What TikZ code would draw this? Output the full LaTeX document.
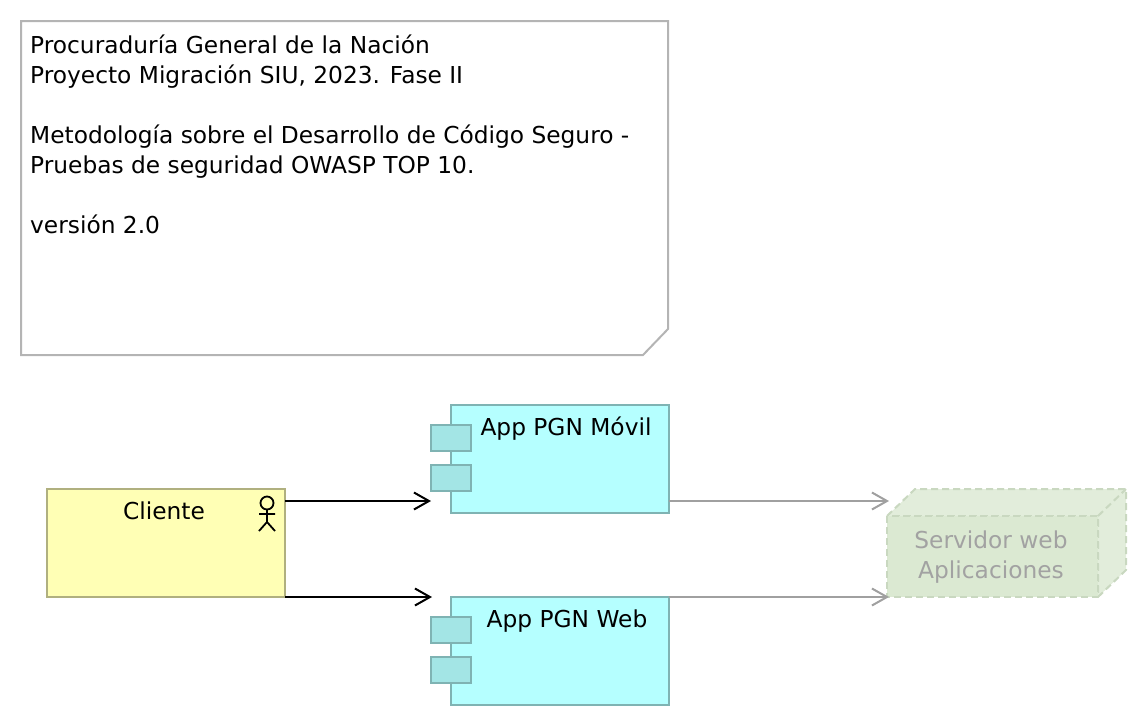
\documentclass[tikz,border=0pt]{standalone}
\usepackage{fontspec}
\setmainfont{DejaVu Sans}
\usetikzlibrary{arrows.meta}
\definecolor{notegray}{HTML}{B4B4B4}
\definecolor{appfill}{HTML}{B5FFFF}
\definecolor{appline}{HTML}{7FB3B3}
\definecolor{tabfill}{HTML}{A3E5E5}
\definecolor{clientfill}{HTML}{FFFFB5}
\definecolor{clientline}{HTML}{B0B07F}
\definecolor{frontfill}{HTML}{DBE9D2}
\definecolor{sidefill}{HTML}{E2EDDB}
\definecolor{serverline}{HTML}{C9D8C0}
\definecolor{servertext}{HTML}{A2A2A2}
\definecolor{flowgray}{HTML}{A0A0A0}
\tikzset{
	label font/.style = {font=\fontsize{23.3}{30}\selectfont},
	element/.style = {draw, line width=2pt, inner sep=0pt, outer sep=0pt, anchor=north west},
	app/.style = {element, fill=appfill, draw=appline, minimum width=218pt, minimum height=108pt},
	apptab/.style = {element, fill=tabfill, draw=appline, minimum width=40pt, minimum height=26pt},
	client/.style = {element, fill=clientfill, draw=clientline, minimum width=238pt, minimum height=108pt},
	flow/.style = {-{Straight Barb[length=15pt,width=17pt]}, line width=2pt},
	serverflow/.style = {flow, draw=flowgray},
	face/.style = {draw=serverline, line width=2pt, dash pattern=on 7pt off 4pt, line join=round}
}
\begin{document}
\begin{tikzpicture}[x=1pt, y=-1pt]
	\useasboundingbox (0, 0) rectangle (1146, 726);
	% note
	\draw[notegray, line width=2pt, fill=white] (21, 21) -- (668, 21) -- (668, 329) -- (643, 355) -- (21, 355) -- cycle;
	\node[label font, anchor=north west, align=left, inner sep=0pt] (notetext) at (30, 35) {Procuraduría General de la Nación\\Proyecto Migración SIU, 2023. Fase II\\ \\Metodología sobre el Desarrollo de Código Seguro -\\Pruebas de seguridad OWASP TOP 10.\\ \\versión 2.0};
	% client
	\node[client] (cliente) at (47, 489) {};
	\node[label font, anchor=base] (clientelabel) at (164, 519) {Cliente};
	\draw[line width=1.8pt] (267, 503) circle (6.5);
	\draw[line width=1.8pt] (267, 509.5) -- (267, 522) (259, 514) -- (275, 514) (259, 531) -- (267, 522) -- (275, 531);
	% applications
	\node[app] (movil) at (451, 405) {};
	\node[apptab] (movila) at (431, 425) {};
	\node[apptab] (movilb) at (431, 465) {};
	\node[label font, anchor=base] (movillabel) at (566, 435) {App PGN Móvil};
	\node[app] (web) at (451, 597) {};
	\node[apptab] (weba) at (431, 617) {};
	\node[apptab] (webb) at (431, 657) {};
	\node[label font, anchor=base] (weblabel) at (567, 627) {App PGN Web};
	% server
	\draw[face, fill=sidefill] (887, 516) -- (915, 489) -- (1126, 489) -- (1126, 570) -- (1098, 597) -- (1098, 516) -- cycle;
	\draw[face, fill=frontfill] (887, 516) rectangle (1098, 597);
	\draw[face] (1098, 516) -- (1126, 489);
	\node[label font, text=servertext, align=center, anchor=north] (server) at (991, 527) {Servidor web\\Aplicaciones};
	% flows
	\coordinate (toplevel) at (0, 501);
	\coordinate (servertop) at (889, 501);
	\coordinate (serverbottom) at (889, 597);
	\coordinate (webtip) at (432, 597);
	\draw[flow] (cliente.east |- toplevel) -- (movilb.west |- toplevel);
	\draw[flow] (cliente.south east) -- (webtip);
	\draw[serverflow] (movil.east |- toplevel) -- (servertop);
	\draw[serverflow] (web.north east) -- (serverbottom);
\end{tikzpicture}
\end{document}
